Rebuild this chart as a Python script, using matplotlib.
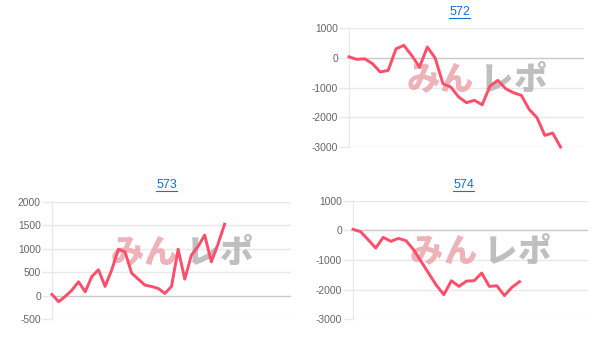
import matplotlib
matplotlib.use('Agg')
import matplotlib.pyplot as plt
from matplotlib.lines import Line2D

# Daten
titles = ['572', '573', '574']
values_572 = [30, -55, -35, -200, -480, -425, 300, 415, 80, -315, 360, -10, -875, -985,
              -1320, -1510, -1430, -1580, -950, -760, -1040, -1175, -1265, -1735, -2015,
              -2610, -2530, -3000]
values_573 = [28, -127, -14, 120, 297, 85, 410, 552, 198, 552, 990, 935, 480, 354, 226,
              198, 156, 50, 198, 990, 354, 864, 1048, 1290, 722, 1097, 1522]
values_574 = [34, -45, -315, -596, -236, -371, -270, -348, -650, -1050, -1450, -1850,
              -2170, -1700, -1890, -1710, -1700, -1440, -1890, -1870, -2200, -1920, -1730]
yticks_572 = [-3000, -2000, -1000, 0, 1000]
yticks_573 = [-500, 0, 500, 1000, 1500, 2000]
yticks_574 = [-3000, -2000, -1000, 0, 1000]
slots = [30, 36, 31]
logo_chars = ['み', 'ん', 'レ', 'ポ']

line_color = '#ff4d6a'
grid_color = '#e8e8e8'
zero_color = '#c8c8c8'
label_color = '#666666'
title_color = '#1470d4'

W, H = 614, 357
fig = plt.figure(figsize=(W / 100, H / 100), dpi=100)

# Achsenpositionen in Pixeln: links, rechts, oben, unten
boxes = [(349, 584, 28, 147), (52, 291, 201.7, 319.3), (353, 587.7, 200.7, 319.3)]
title_pos = [(459.5, 12), (166.5, 185), (463.5, 185)]
all_values = [values_572, values_573, values_574]
all_ticks = [yticks_572, yticks_573, yticks_574]

title_texts = []
for i in range(3):
    l, r, t, b = boxes[i]
    ax = fig.add_axes([l / W, (H - b) / H, (r - l) / W, (b - t) / H])
    vals = all_values[i]
    ticks = all_ticks[i]
    ax.plot(range(len(vals)), vals, color=line_color, lw=2.1, zorder=5, clip_on=False)
    ax.set_xlim(0, slots[i])
    ax.set_ylim(ticks[0], ticks[-1])
    ax.set_yticks(ticks)
    ax.set_yticklabels([str(v) for v in ticks], fontsize=7.4, color=label_color,
                       family='Liberation Sans')
    ax.set_xticks([])
    ax.tick_params(axis='y', length=7, width=1, color=grid_color, pad=1)
    ax.grid(axis='y', color=grid_color, lw=1)
    ax.set_axisbelow(True)
    for tick in ax.yaxis.get_major_ticks():
        if tick.get_loc() == 0:
            tick.tick1line.set_color(zero_color)
            tick.gridline.set_color(zero_color)
    for s in ['top', 'right', 'bottom']:
        ax.spines[s].set_visible(False)
    ax.spines['left'].set_color(grid_color)
    ax.patch.set_alpha(0)

    # Wasserzeichen
    xs = [0.315, 0.455, 0.63, 0.77]
    for j, ch in enumerate(logo_chars):
        c = '#eaa6ad' if j < 2 else '#b4b4b4'
        ax.text(xs[j], 0.57, ch, transform=ax.transAxes, ha='center', va='center',
                fontsize=24, fontweight='black', color=c, alpha=0.85,
                family=['Noto Sans CJK JP', 'DejaVu Sans'], zorder=1)

    tx, ty = title_pos[i]
    tt = fig.text(tx / W, (H - ty) / H, titles[i], ha='center', va='center',
                  fontsize=9, color=title_color, family='Liberation Sans')
    title_texts.append(tt)

# Unterstreichung der Titel
fig.canvas.draw()
renderer = fig.canvas.get_renderer()
for tt in title_texts:
    bb = tt.get_window_extent(renderer)
    y = bb.y0 + 0.5
    fig.add_artist(Line2D([bb.x0 / W, bb.x1 / W], [y / H, y / H], color=title_color,
                          lw=0.8, transform=fig.transFigure))

fig.savefig('out.png', dpi=100)
